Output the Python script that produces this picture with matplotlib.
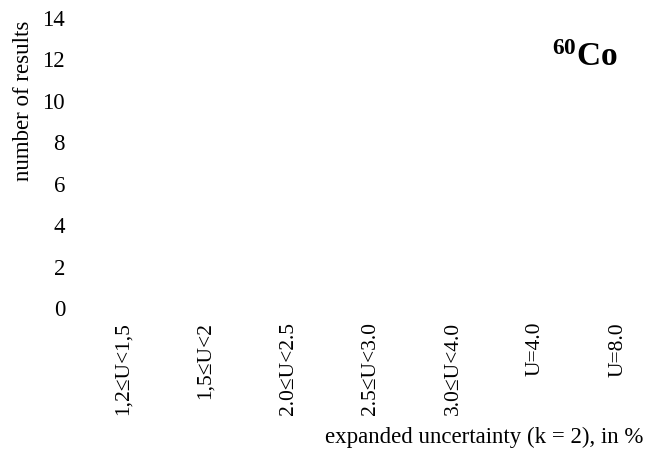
import matplotlib
matplotlib.use("Agg")
import matplotlib.pyplot as plt

categories = ["1,2≤U<1,5", "1,5≤U<2", "2.0≤U<2.5", "2.5≤U<3.0", "3.0≤U<4.0", "U=4.0", "U=8.0"]
counts = [0, 0, 0, 0, 0, 0, 0]
yticks = [0, 2, 4, 6, 8, 10, 12, 14]

plt.rcParams['font.family'] = ['Liberation Serif', 'DejaVu Serif']
plt.rcParams['mathtext.fontset'] = 'custom'
plt.rcParams['mathtext.rm'] = 'Liberation Serif'
plt.rcParams['mathtext.bf'] = 'Liberation Serif:bold'

W, H = 661, 453
fig = plt.figure(figsize=(W/100, H/100), dpi=100)
ax = fig.add_axes([81.75/W, 1-308/H, (659.25-81.75)/W, (308-18)/H])

x = list(range(len(categories)))
ax.bar(x, counts, width=0.6, color="white")
ax.set_xlim(-0.5, len(categories)-0.5)
ax.set_ylim(0, 14)
ax.set_yticks(yticks)
ax.set_yticklabels([str(v) for v in yticks], fontsize=16.5)
ax.set_xticks(x)
ax.set_xticklabels(categories, rotation=90, fontsize=15.5)
ax.tick_params(axis='y', length=0, pad=12)
ax.tick_params(axis='x', length=0, pad=10)
for s in ax.spines.values():
    s.set_visible(False)

fig.text(24/W, 1-101/H, "number of results", rotation=90, ha='center', va='center', fontsize=16.5)
fig.text(643/W, 1-437/H, "expanded uncertainty (k = 2), in %", ha='right', va='center', fontsize=16.5)
fig.text(618/W, 1-58/H, r"$\mathbf{^{60}Co}$", ha='right', va='center', fontsize=24)

fig.savefig("out.png", dpi=100)
